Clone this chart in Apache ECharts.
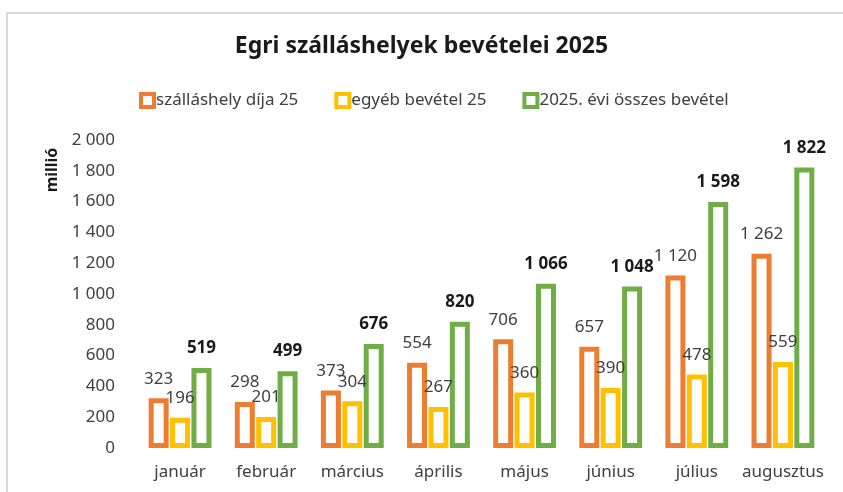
<!DOCTYPE html>
<html>
<head>
<meta charset="utf-8">
<script src="https://cdn.jsdelivr.net/npm/echarts@6/dist/echarts.min.js"></script>
<style>
  html, body { margin: 0; padding: 0; background: #fff; }
  #main { width: 843px; height: 492px; }
</style>
</head>
<body>
<div id="main"></div>
<script>
var months = ['január', 'február', 'március', 'április', 'május', 'június', 'július', 'augusztus'];
var szallasDija = [323, 298, 373, 554, 706, 657, 1120, 1262];
var egyebBevetel = [196, 201, 304, 267, 360, 390, 478, 559];
var osszesBevetel = [519, 499, 676, 820, 1066, 1048, 1598, 1822];

var fontName = 'Noto Sans';

function fmt(v) {
    return String(v).replace(/\B(?=(\d{3})+(?!\d))/g, ' ');
}

function barSeries(name, data, color, bold) {
    return {
        name: name,
        type: 'bar',
        data: data,
        barWidth: 20,
        barGap: '7%',
        itemStyle: {
            color: '#fff',
            borderColor: color,
            borderWidth: 5
        },
        label: {
            show: true,
            position: 'top',
            distance: 11,
            fontFamily: fontName,
            fontSize: 17,
            fontWeight: bold ? 'bold' : 'normal',
            color: bold ? '#1a1a1a' : '#404040',
            formatter: function (p) { return fmt(p.value); }
        }
    };
}

var myChart = echarts.init(document.getElementById('main'));

let option = {
    backgroundColor: '#fff',
    animation: false,
    textStyle: { fontFamily: fontName },
    graphic: [{
        type: 'rect',
        shape: { x: 7, y: 13, width: 900, height: 600 },
        style: { fill: 'none', stroke: '#d9d9d9', lineWidth: 2 },
        silent: true
    }, {
        // y axis unit
        type: 'text',
        x: 52,
        y: 170,
        rotation: Math.PI / 2,
        style: {
            text: 'millió',
            align: 'center',
            verticalAlign: 'middle',
            fontFamily: fontName,
            fontSize: 16,
            fontWeight: 'bold',
            fill: '#1a1a1a'
        }
    }],
    title: {
        text: 'Egri szálláshelyek bevételei 2025',
        left: 'center',
        top: 30,
        textStyle: { fontFamily: fontName, fontSize: 23, fontWeight: 'bold', color: '#1a1a1a' }
    },
    legend: {
        top: 87,
        left: 134,
        icon: 'rect',
        itemWidth: 13,
        itemHeight: 13,
        itemGap: 36,
        itemStyle: { borderWidth: 4 },
        textStyle: { fontFamily: fontName, fontSize: 17, color: '#404040', padding: [0, 0, 0, -3] }
    },
    grid: {
        left: 137,
        right: 17,
        top: 140,
        bottom: 44
    },
    xAxis: {
        type: 'category',
        data: months,
        axisLine: { show: false },
        axisTick: { show: false },
        axisLabel: { interval: 0, fontFamily: fontName, fontSize: 17, color: '#404040', margin: 16 }
    },
    yAxis: {
        type: 'value',
        min: 0,
        max: 2000,
        interval: 200,
        axisLine: { show: false },
        axisTick: { show: false },
        splitLine: { show: false },
        axisLabel: {
            fontFamily: fontName, fontSize: 17, color: '#404040', margin: 22,
            formatter: function (v) { return fmt(v); }
        }
    },
    series: [
        barSeries('szálláshely díja 25', szallasDija, '#ED7D31', false),
        barSeries('egyéb bevétel 25', egyebBevetel, '#FFC000', false),
        barSeries('2025. évi összes bevétel', osszesBevetel, '#70AD47', true)
    ]
};

myChart.setOption(option);
</script>
</body>
</html>
